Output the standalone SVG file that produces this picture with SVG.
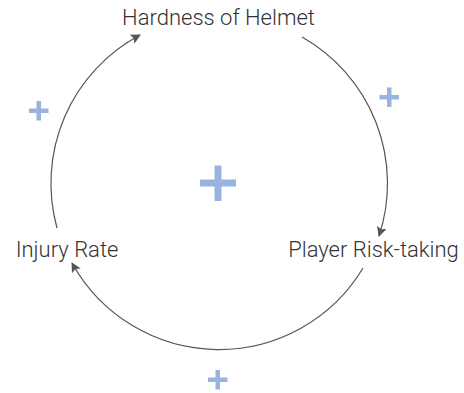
<svg xmlns="http://www.w3.org/2000/svg" width="464" height="393" viewBox="0 0 464 393">
<defs>
<style>
.lbl{font-family:Roboto,"Liberation Sans",Arial,sans-serif;font-weight:300;font-size:22px;fill:#333;}
.arc{fill:none;stroke:#555;stroke-width:1.2;}
.plus{fill:#98b4de;}
</style>
<marker id="ah" viewBox="0 0 10 10" refX="9" refY="5" markerWidth="10" markerHeight="10" markerUnits="userSpaceOnUse" orient="auto">
<path d="M0,0 L10,5 L0,10 L2,5 Z" fill="#555"/>
</marker>
</defs>
<rect width="464" height="393" fill="#fff"/>
<g id="connectors">
<path class="arc" d="M302,37 A168,168 0 0 1 379,236" marker-end="url(#ah)"/>
<path class="arc" d="M363,268 A168,168 0 0 1 72,263" marker-end="url(#ah)"/>
<path class="arc" d="M57,228 A168,168 0 0 1 140,35" marker-end="url(#ah)"/>
</g>
<g id="node-hardness"><text class="lbl" x="218.5" y="25" text-anchor="middle">Hardness of Helmet</text></g>
<g id="node-risk"><text class="lbl" x="373.5" y="257" text-anchor="middle">Player Risk-taking</text></g>
<g id="node-injury"><text class="lbl" x="67" y="257" text-anchor="middle">Injury Rate</text></g>
<g id="polarity">
<path class="plus" d="M200,179.5 h14.5 v-14 h7 v14 h14.5 v7 h-14.5 v14.5 h-7 v-14.5 h-14.5 Z"/>
<path class="plus" d="M379.5,95 h7.5 v-7.5 h4.5 v7.5 h7.5 v4.5 h-7.5 v7.5 h-4.5 v-7.5 h-7.5 Z"/>
<path class="plus" d="M29,108.5 h7.5 v-7.5 h4.5 v7.5 h7.5 v4.5 h-7.5 v7.5 h-4.5 v-7.5 h-7.5 Z"/>
<path class="plus" d="M208,377.5 h7.5 v-7.5 h4.5 v7.5 h7.5 v4.5 h-7.5 v7.5 h-4.5 v-7.5 h-7.5 Z"/>
</g>
</svg>
